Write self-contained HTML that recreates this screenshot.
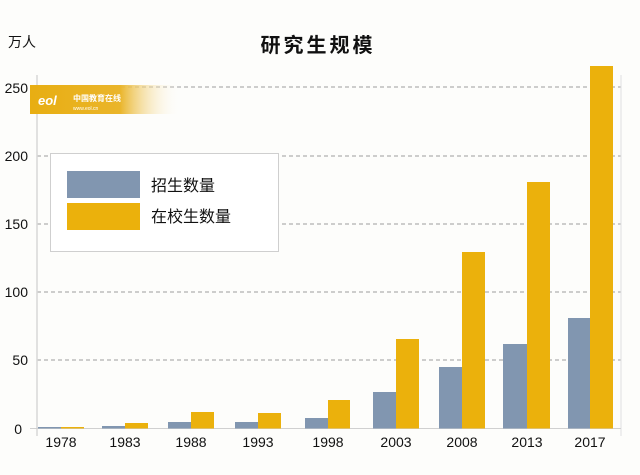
<!DOCTYPE html>
<html><head><meta charset="utf-8"><style>
html,body{margin:0;padding:0;background:#fdfdfb;}
svg{display:block;font-family:"Liberation Sans","Noto Sans CJK SC",sans-serif;}
</style></head><body>
<svg width="640" height="475" viewBox="0 0 640 475" xmlns="http://www.w3.org/2000/svg">
<defs><linearGradient id="g" x1="0" x2="1"><stop offset="0" stop-color="#e8ae12"/><stop offset="0.6" stop-color="#eab52a"/><stop offset="1" stop-color="#fdfdfb" stop-opacity="0"/></linearGradient></defs>
<rect width="640" height="475" fill="#fdfdfb"/>
<text x="318" y="52" font-size="20" font-weight="bold" text-anchor="middle" letter-spacing="3" fill="#111">研究生规模</text>
<text x="8" y="47" font-size="14" fill="#111">万人</text>
<g stroke="#bdbdbd" stroke-width="1.5" stroke-dasharray="4,3">
<line x1="37" x2="621" y1="87" y2="87"/><line x1="37" x2="621" y1="156" y2="156"/><line x1="37" x2="621" y1="224" y2="224"/><line x1="37" x2="621" y1="292" y2="292"/><line x1="37" x2="621" y1="360" y2="360"/>
</g>
<line x1="37" x2="37" y1="75" y2="436" stroke="#d8d8d8" stroke-width="1.5"/>
<line x1="621" x2="621" y1="75" y2="436" stroke="#e0e0e0" stroke-width="1"/>
<line x1="30" x2="621" y1="428.5" y2="428.5" stroke="#d0d0d0" stroke-width="1"/>
<g font-size="14" fill="#111" text-anchor="end">
<text x="28" y="93">250</text><text x="28" y="161">200</text><text x="28" y="229">150</text><text x="28" y="297">100</text><text x="28" y="365">50</text><text x="22" y="434">0</text>
</g>
<rect x="30" y="85" width="150" height="29" fill="url(#g)"/>
<text x="38" y="105" font-size="13" font-style="italic" font-weight="bold" fill="#fff">eol</text>
<text x="73" y="101" font-size="8" font-weight="bold" fill="#fff">中国教育在线</text>
<text x="73" y="110" font-size="5" fill="#fff">www.eol.cn</text>
<g fill="#8196b0">
<rect x="38" y="427" width="23" height="1.5"/><rect x="102" y="426" width="23" height="2.5"/><rect x="168" y="422" width="23" height="6.5"/><rect x="235" y="422" width="23" height="6.5"/><rect x="305" y="418" width="23" height="10.5"/><rect x="373" y="392" width="23" height="36.5"/><rect x="439" y="367" width="23" height="61.5"/><rect x="503" y="344" width="24" height="84.5"/><rect x="568" y="318" width="22" height="110.5"/>
</g>
<g fill="#ebb10c">
<rect x="61" y="427" width="23" height="1.5"/><rect x="125" y="423" width="23" height="5.5"/><rect x="191" y="412" width="23" height="16.5"/><rect x="258" y="413" width="23" height="15.5"/><rect x="328" y="400" width="22" height="28.5"/><rect x="396" y="339" width="23" height="89.5"/><rect x="462" y="252" width="23" height="176.5"/><rect x="527" y="182" width="23" height="246.5"/><rect x="590" y="66" width="23" height="362.5"/>
</g>
<g font-size="14" fill="#111" text-anchor="middle">
<text x="61" y="447">1978</text><text x="125" y="447">1983</text><text x="191" y="447">1988</text><text x="258" y="447">1993</text><text x="328" y="447">1998</text><text x="396" y="447">2003</text><text x="462" y="447">2008</text><text x="527" y="447">2013</text><text x="590" y="447">2017</text>
</g>
<rect x="50.5" y="153.5" width="228" height="98" fill="#fff" stroke="#cfcfcf"/>
<rect x="67" y="171" width="73" height="27" fill="#8196b0"/>
<rect x="67" y="203" width="73" height="27" fill="#ebb10c"/>
<text x="151" y="191" font-size="16" fill="#111">招生数量</text>
<text x="151" y="222" font-size="16" fill="#111">在校生数量</text>
</svg>
</body></html>
